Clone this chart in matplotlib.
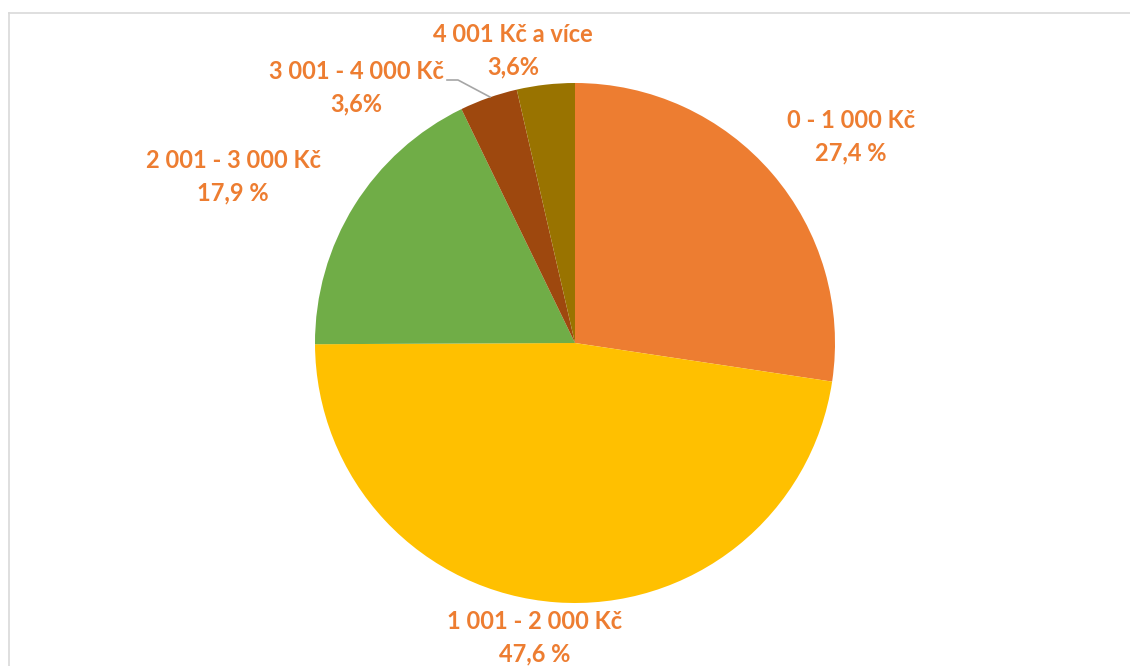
import matplotlib
matplotlib.use("Agg")
import matplotlib.pyplot as plt
from matplotlib.lines import Line2D

categories = ["0 - 1 000 Kč", "1 001 - 2 000 Kč", "2 001 - 3 000 Kč", "3 001 - 4 000 Kč", "4 001 Kč a více"]
values = [27.4, 47.6, 17.9, 3.6, 3.6]
pct_labels = ["27,4 %", "47,6 %", "17,9 %", "3,6%", "3,6%"]
colors = ["#ED7D31", "#FFC000", "#70AD47", "#9E480E", "#997300"]

W, H = 1130, 666
fig = plt.figure(figsize=(W / 100, H / 100), dpi=100)
ax = fig.add_axes([0, 0, 1, 1])

cx, cy, r = 575, H - 343, 260
ax.pie(values, colors=colors, startangle=90, counterclock=False,
       center=(cx, cy), radius=r, frame=True,
       wedgeprops=dict(linewidth=0))
ax.set_xlim(0, W)
ax.set_ylim(0, H)
ax.axis("off")

# label positions (pixel coords, y from top)
label_pos = [(851, 137), (535, 638), (233, 177), (356, 88), (513, 51)]
font = dict(family=["Lato", "DejaVu Sans"], fontweight="bold", fontsize=17, color="#ED7D31")
for (lx, ly), cat, pct in zip(label_pos, categories, pct_labels):
    ax.text(lx, H - ly, f"{cat}\n{pct}", ha="center", va="center",
            linespacing=1.48, **font)

# leader line for 3 001 - 4 000 Kč
ax.plot([447, 458, 490], [H - 80, H - 80, H - 97], color="#A6A6A6", lw=1.2)

# chart border (left and top)
fig.add_artist(Line2D([8.5 / W, 8.5 / W], [0, 1 - 13 / H], color="#D9D9D9", lw=1.2, transform=fig.transFigure))
fig.add_artist(Line2D([8.5 / W, 1], [1 - 13 / H, 1 - 13 / H], color="#D9D9D9", lw=1.2, transform=fig.transFigure))

fig.savefig("out.png", dpi=100, facecolor="white")
